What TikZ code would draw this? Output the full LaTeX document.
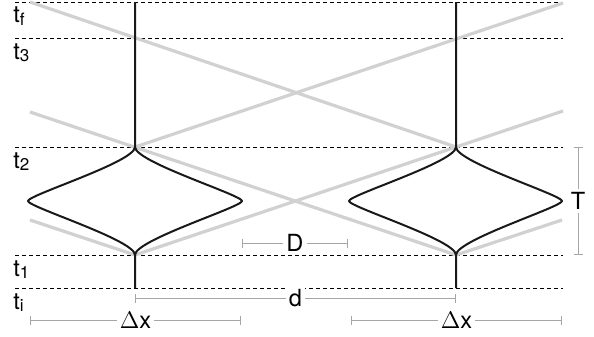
\documentclass[tikz,border=0pt]{standalone}
\usepackage{fontspec}
\setmainfont{TeX Gyre Heros}
\usetikzlibrary{arrows.meta}

\newcommand{\tlab}[1]{t\raisebox{-0.2ex}{\fontsize{8.5}{9}\selectfont #1}}

\begin{document}
\begin{tikzpicture}[
  x=0.5pt, y=-0.5pt,
  font=\fontsize{11.8}{13}\selectfont,
  tline/.style    ={draw=black, line width=0.45pt, dash pattern=on 2.2pt off 1.3pt},
  ray/.style      ={draw=black!18, line width=1.6pt},
  worldline/.style={draw=black!90, line width=1pt, line join=round},
  dim/.style      ={draw=black!35, line width=0.45pt, {Bar[width=4.5pt]}-{Bar[width=4.5pt]}},
  dimlabel/.style ={fill=white, inner sep=1.5pt, text=black},
  tlabel/.style   ={anchor=base west, inner sep=0pt},
]
\useasboundingbox (0,0) rectangle (594,337);

% time levels
\foreach \n/\y in {f/2, 3/38, 2/147, 1/255, i/288}{
  \coordinate (t\n-l) at (15,\y);
  \coordinate (t\n-r) at (563,\y);
  \draw[tline] (t\n-l) -- (t\n-r);
  \node[tlabel] (lab-\n) at (13,{\y+21}) {\tlab{\n}};
}

% events on the two world lines
\coordinate (Lf) at (135,2);   \coordinate (Rf) at (456,2);
\coordinate (L2) at (135,147); \coordinate (R2) at (456,147);
\coordinate (L1) at (135,255); \coordinate (R1) at (456,255);
\coordinate (Li) at (135,288); \coordinate (Ri) at (456,288);
\coordinate (Lw) at (28,201);  \coordinate (Le) at (242,201);
\coordinate (Rw) at (349,201); \coordinate (Re) at (562,201);

% light rays
\coordinate (a1) at (30,2);   \coordinate (a2) at (30,112);  \coordinate (a3) at (30,220);
\coordinate (b1) at (563,3);  \coordinate (b2) at (563,111); \coordinate (b3) at (562,220);
\draw[ray] (a1) -- (R2);
\draw[ray] (a2) -- (R1);
\draw[ray] (L2) -- (b1);
\draw[ray] (L1) -- (b2);
\draw[ray] (a3) -- (L1);
\draw[ray] (R1) -- (b3);

% world lines
\draw[worldline] (Lf) -- (L2) .. controls +(0,15) and +(0,-6) .. (Lw)
                 .. controls +(0,6) and +(0,-15) .. (L1) -- (Li);
\draw[worldline] (L2) .. controls +(0,15) and +(0,-6) .. (Le)
                 .. controls +(0,6) and +(0,-15) .. (L1);
\draw[worldline] (Rf) -- (R2) .. controls +(0,15) and +(0,-6) .. (Rw)
                 .. controls +(0,6) and +(0,-15) .. (R1) -- (Ri);
\draw[worldline] (R2) .. controls +(0,15) and +(0,-6) .. (Re)
                 .. controls +(0,6) and +(0,-15) .. (R1);

% dimensions
\coordinate (D-l)  at (242,243); \coordinate (D-r)  at (348,243);
\coordinate (d-l)  at (135,298); \coordinate (d-r)  at (456,298);
\coordinate (xL-l) at (30,320);  \coordinate (xL-r) at (241,320);
\coordinate (xR-l) at (351,320); \coordinate (xR-r) at (562,320);
\coordinate (T-t)  at (578,147); \coordinate (T-b)  at (578,255);
\draw[dim] (D-l)  -- node[dimlabel] (D)  {D} (D-r);
\draw[dim] (d-l)  -- node[dimlabel] (d)  {d} (d-r);
\draw[dim] (xL-l) -- node[dimlabel] (dxL) {$\Delta$x} (xL-r);
\draw[dim] (xR-l) -- node[dimlabel] (dxR) {$\Delta$x} (xR-r);
\draw[dim] (T-t)  -- node[dimlabel] (T)  {T} (T-b);

\end{tikzpicture}
\end{document}
